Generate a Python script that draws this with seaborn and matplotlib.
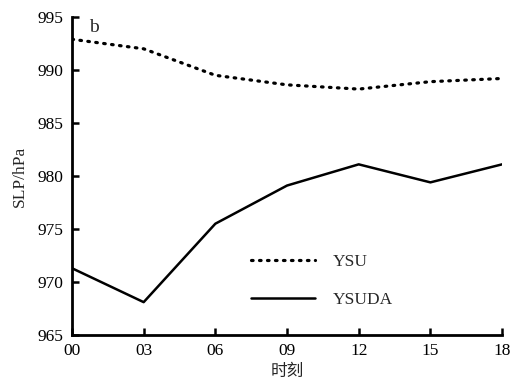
import numpy as np
import pandas as pd
import matplotlib
matplotlib.use("Agg")
import matplotlib.pyplot as plt
import seaborn as sns

hours = ["00", "03", "06", "09", "12", "15", "18"]
ysu = [992.9, 992.0, 989.5, 988.6, 988.2, 988.9, 989.2]
ysuda = [971.3, 968.1, 975.5, 979.1, 981.1, 979.4, 981.1]

sns.set_theme(style="white")
plt.rcParams['font.family'] = ['Liberation Serif', 'Noto Sans CJK SC']

x = np.arange(len(hours))
df = pd.DataFrame({"x": np.concatenate([x, x]),
                   "SLP": ysu + ysuda,
                   "run": ["YSU"] * len(x) + ["YSUDA"] * len(x)})

fig = plt.figure(figsize=(5.16, 3.83), dpi=100)
ax = fig.add_axes([0.1395, 0.1253, 0.8335, 0.8303])
sns.lineplot(data=df[df.run == "YSU"], x="x", y="SLP", ax=ax, color="black",
             linestyle=(0, (0.5, 2.0)), linewidth=2.3, dash_capstyle="round",
             label="YSU")
sns.lineplot(data=df[df.run == "YSUDA"], x="x", y="SLP", ax=ax, color="black",
             linewidth=1.8, label="YSUDA")

ax.set_xlim(0, 6)
ax.set_ylim(965, 995)
ax.set_xticks(x)
ax.set_xticklabels(hours)
ax.set_yticks(np.arange(965, 996, 5))
ax.tick_params(direction="in", length=5, width=1.8, labelsize=12.5, colors="black",
               left=True, bottom=True, pad=6)
for s in ["top", "right"]:
    ax.spines[s].set_visible(False)
for s in ["left", "bottom"]:
    ax.spines[s].set_linewidth(2)
    ax.spines[s].set_color("black")
ax.set_xlabel("时刻", fontsize=12, labelpad=3)
ax.set_ylabel("SLP/hPa", fontsize=12.5, labelpad=7)
ax.text(0.3, 994.0, "b", fontsize=14, ha="center", va="center")
leg = ax.legend(loc="lower left", bbox_to_anchor=(0.38, 0.035), frameon=False,
                fontsize=12.5, handlelength=3.7, labelspacing=1.25, handletextpad=1.0)
fig.savefig("out.png", dpi=100)
